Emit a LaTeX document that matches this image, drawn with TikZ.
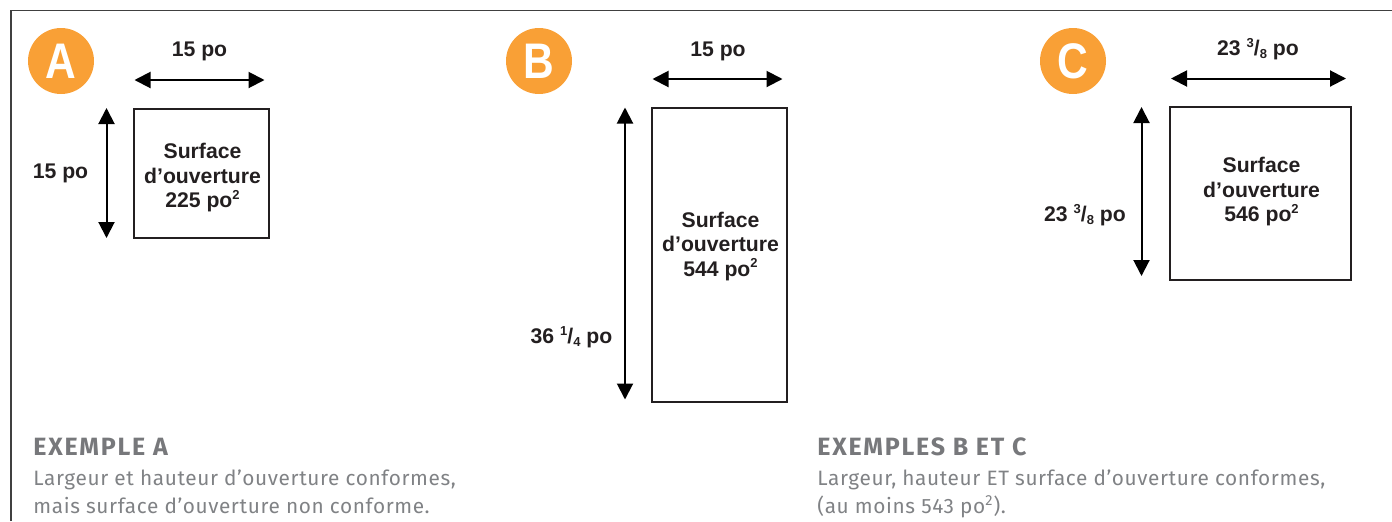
\documentclass[tikz,border=0pt]{standalone}
\usepackage{fontspec}
\setmainfont{Liberation Sans}
\newfontfamily\capfont[LetterSpace=3]{Fira Sans}
\newfontfamily\titlefont[LetterSpace=7]{Fira Sans}
\usetikzlibrary{arrows.meta}
\definecolor{badgeorange}{HTML}{F9A036}
\definecolor{inkdark}{HTML}{231F20}
\definecolor{capgray}{HTML}{808285}
\definecolor{titlegray}{HTML}{77787B}
\tikzstyle{badge}=[circle, inner sep=0pt, minimum size=33pt, fill=badgeorange, text=white, font=\bfseries\fontsize{25}{25}\selectfont]
\tikzstyle{surf}=[draw=inkdark, line width=1pt, inner sep=0pt]
\tikzstyle{dim}=[inner sep=0pt, text=inkdark, font=\bfseries\fontsize{10.6}{12.25}\selectfont]
\tikzstyle{captitle}=[anchor=base west, inner sep=0pt, text=titlegray, font=\titlefont\bfseries\fontsize{12.5}{13}\selectfont]
\tikzstyle{captext}=[anchor=base west, inner sep=0pt, text=capgray, font=\capfont\fontsize{10.4}{12}\selectfont]
\tikzstyle{dimarrow}=[{Triangle[length=8pt,width=8pt]}-{Triangle[length=8pt,width=8pt]}, line width=1pt, draw=black]
\newcommand{\sq}{\raisebox{.8ex}{\fontsize{6.5}{7}\selectfont\bfseries 2}}
\newcommand{\frc}[2]{\raisebox{.7ex}{\fontsize{6.5}{7}\selectfont #1}/\raisebox{-.3ex}{\fontsize{6.5}{7}\selectfont #2}}
\begin{document}
\begin{tikzpicture}[x=.5pt, y=-.5pt]
    \useasboundingbox (0,0) rectangle (1392,521);
    % frame
    \coordinate (f1) at (11,521);
    \coordinate (f2) at (11,10.5);
    \coordinate (f3) at (1392,10.5);
    \draw[draw=black!75, line width=.8pt] (f1) -- (f2) -- (f3);
    % badges
    \node[badge] (bA) at (61,61) {\scalebox{.85}[1]{A}};
    \node[badge] (bB) at (539,61) {\scalebox{.85}[1]{B}};
    \node[badge] (bC) at (1073,61) {\scalebox{.85}[1]{C}};
    % boxes
    \node[surf, minimum width=67.5pt, minimum height=64.5pt] (rA) at (201.5,173.5) {};
    \node[surf, minimum width=67.5pt, minimum height=147pt] (rB) at (719.5,255) {};
    \node[surf, minimum width=90.5pt, minimum height=86.5pt] (rC) at (1260.5,193.5) {};
    \node[dim, align=center] (tA) at (202.5,178) {Surface\\d’ouverture\\225 po\sq};
    \node[dim, align=center] (tB) at (720.5,246.5) {Surface\\d’ouverture\\544 po\sq};
    \node[dim, align=center] (tC) at (1261.5,192) {Surface\\d’ouverture\\546 po\sq};
    % dimensions
    \node[dim] (wA) at (199.5,51) {15 po};
    \node[dim] (hA) at (60.5,173) {15 po};
    \node[dim] (wB) at (718,51) {15 po};
    \node[dim] (hB) at (571.5,337) {36 \frc{1}{4} po};
    \node[dim] (wC) at (1258,49) {23 \frc{3}{8} po};
    \node[dim] (hC) at (1085,215) {23 \frc{3}{8} po};
    % arrow ends
    \coordinate (a1) at (134.5,80);
    \coordinate (a2) at (264.5,80);
    \coordinate (a3) at (106.5,108);
    \coordinate (a4) at (106.5,238);
    \coordinate (b1) at (652.5,79);
    \coordinate (b2) at (782.5,79);
    \coordinate (b3) at (625,107.5);
    \coordinate (b4) at (625,399.5);
    \coordinate (c1) at (1171,78.5);
    \coordinate (c2) at (1346,78.5);
    \coordinate (c3) at (1141.5,107);
    \coordinate (c4) at (1141.5,276);
    \foreach \from/\to in
      {a1/a2, a3/a4, b1/b2, b3/b4, c1/c2, c3/c4}
    \draw[dimarrow] (\from) -- (\to);
    % captions
    \node[captitle] (e1) at (33,455.5) {EXEMPLE A};
    \node[captext] (e2) at (33,485) {Largeur et hauteur d’ouverture conformes,};
    \node[captext] (e3) at (33,513) {mais surface d’ouverture non conforme.};
    \node[captitle] (e4) at (817,455.5) {EXEMPLES B ET C};
    \node[captext] (e5) at (817,485) {Largeur, hauteur ET surface d’ouverture conformes,};
    \node[captext] (e6) at (817,513) {(au moins 543 po\textsuperscript{2}).};
\end{tikzpicture}
\end{document}
